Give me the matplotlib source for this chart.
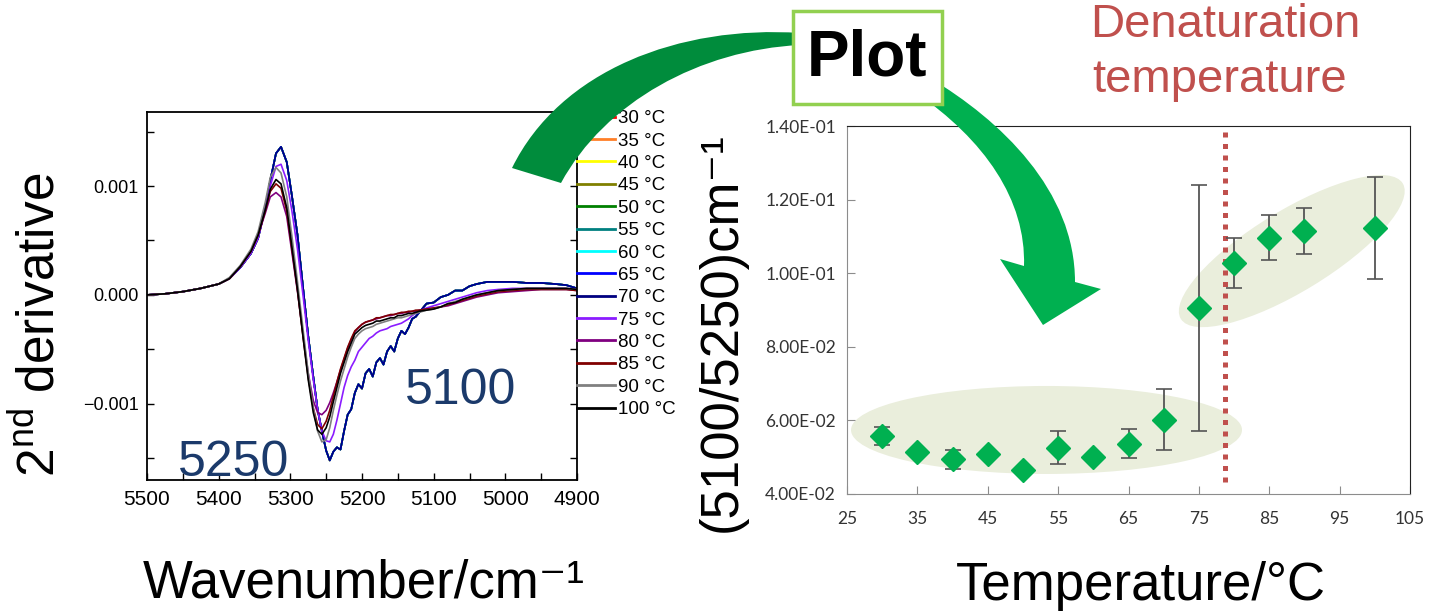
import matplotlib
matplotlib.use("Agg")
import matplotlib.pyplot as plt
import numpy as np
from matplotlib import font_manager
from matplotlib.patches import Ellipse, PathPatch, Rectangle
from matplotlib.path import Path
from matplotlib.transforms import ScaledTranslation

# ---- second-derivative spectra (values in units of 1e-3) ----
wavenumber = [5500, 5475, 5450, 5425, 5400, 5385, 5370, 5355, 5345, 5335,
              5328, 5320, 5313, 5305, 5298, 5290, 5282, 5275, 5268, 5262,
              5256, 5250, 5245, 5240, 5235, 5230, 5225, 5220, 5215, 5210,
              5205, 5200, 5195, 5190, 5185, 5180, 5175, 5170, 5165, 5160,
              5155, 5150, 5145, 5140, 5135, 5130, 5125, 5120, 5110, 5100,
              5090, 5080, 5070, 5060, 5050, 5040, 5025, 5010, 4990, 4970,
              4950, 4930, 4915, 4900]

# 30-70 C spectra lie on top of each other
d2_low = [0.00, 0.01, 0.03, 0.06, 0.10, 0.15, 0.25, 0.38, 0.52, 0.80,
          1.05, 1.30, 1.36, 1.22, 0.92, 0.55, 0.05, -0.38, -0.75, -1.05,
          -1.25, -1.43, -1.52, -1.44, -1.40, -1.42, -1.25, -1.10, -1.05, -0.90,
          -0.82, -0.86, -0.72, -0.68, -0.75, -0.62, -0.58, -0.64, -0.52, -0.47,
          -0.52, -0.40, -0.33, -0.36, -0.30, -0.22, -0.20, -0.16, -0.08, -0.07,
          -0.02, 0.00, 0.04, 0.04, 0.08, 0.10, 0.12, 0.12, 0.12, 0.11,
          0.11, 0.10, 0.09, 0.06]
d2_75 = [0.00, 0.01, 0.03, 0.06, 0.10, 0.15, 0.25, 0.38, 0.52, 0.78,
         1.00, 1.18, 1.20, 1.05, 0.78, 0.42, -0.02, -0.42, -0.78, -1.05,
         -1.25, -1.34, -1.35, -1.28, -1.15, -1.00, -0.85, -0.74, -0.66, -0.60,
         -0.52, -0.48, -0.44, -0.40, -0.38, -0.35, -0.33, -0.32, -0.31, -0.29,
         -0.28, -0.27, -0.26, -0.24, -0.22, -0.19, -0.17, -0.15, -0.12, -0.10,
         -0.08, -0.06, -0.04, -0.02, 0.00, 0.02, 0.04, 0.05, 0.06, 0.06,
         0.06, 0.06, 0.06, 0.05]
d2_80 = [0.00, 0.01, 0.03, 0.06, 0.10, 0.15, 0.26, 0.40, 0.55, 0.75,
         0.90, 0.94, 0.90, 0.72, 0.40, 0.03, -0.38, -0.72, -0.97, -1.08,
         -1.10, -1.06, -0.99, -0.90, -0.80, -0.69, -0.59, -0.49, -0.41, -0.34,
         -0.30, -0.27, -0.25, -0.24, -0.23, -0.22, -0.21, -0.20, -0.19, -0.19,
         -0.18, -0.17, -0.17, -0.16, -0.16, -0.15, -0.15, -0.14, -0.13, -0.12,
         -0.11, -0.10, -0.08, -0.06, -0.04, -0.02, 0.00, 0.02, 0.03, 0.04,
         0.05, 0.05, 0.05, 0.04]
d2_85 = [0.00, 0.01, 0.03, 0.06, 0.10, 0.15, 0.26, 0.40, 0.55, 0.77,
         0.95, 1.02, 0.98, 0.77, 0.43, 0.04, -0.40, -0.76, -1.04, -1.19,
         -1.23, -1.16, -1.06, -0.93, -0.80, -0.68, -0.58, -0.48, -0.40, -0.33,
         -0.30, -0.27, -0.25, -0.24, -0.23, -0.21, -0.21, -0.20, -0.19, -0.18,
         -0.18, -0.17, -0.16, -0.16, -0.15, -0.15, -0.14, -0.14, -0.13, -0.12,
         -0.11, -0.09, -0.07, -0.05, -0.03, -0.01, 0.01, 0.03, 0.04, 0.05,
         0.05, 0.05, 0.05, 0.04]
d2_90 = [0.00, 0.01, 0.03, 0.06, 0.10, 0.16, 0.27, 0.42, 0.58, 0.85,
         1.08, 1.17, 1.12, 0.90, 0.55, 0.12, -0.33, -0.72, -1.04, -1.25,
         -1.35, -1.33, -1.22, -1.06, -0.92, -0.79, -0.68, -0.57, -0.48, -0.40,
         -0.36, -0.33, -0.31, -0.30, -0.29, -0.27, -0.26, -0.25, -0.24, -0.23,
         -0.22, -0.21, -0.21, -0.20, -0.19, -0.18, -0.17, -0.16, -0.14, -0.13,
         -0.11, -0.08, -0.06, -0.04, -0.02, 0.00, 0.02, 0.04, 0.05, 0.06,
         0.06, 0.06, 0.06, 0.05]
d2_100 = [0.00, 0.01, 0.03, 0.06, 0.10, 0.15, 0.26, 0.40, 0.55, 0.78,
          0.97, 1.06, 1.02, 0.80, 0.45, 0.05, -0.40, -0.78, -1.08, -1.24,
          -1.28, -1.22, -1.12, -0.98, -0.85, -0.72, -0.62, -0.52, -0.44, -0.36,
          -0.33, -0.30, -0.28, -0.27, -0.26, -0.24, -0.24, -0.23, -0.22, -0.21,
          -0.21, -0.19, -0.19, -0.18, -0.17, -0.17, -0.16, -0.15, -0.14, -0.13,
          -0.11, -0.08, -0.07, -0.04, -0.02, 0.00, 0.02, 0.04, 0.05, 0.06,
          0.06, 0.06, 0.06, 0.05]

spec_temps = [30, 35, 40, 45, 50, 55, 60, 65, 70, 75, 80, 85, 90, 100]
spec_colors = ["#FF0000", "#FF7F27", "#FFFF00", "#808000", "#008000",
               "#008080", "#00FFFF", "#0000FF", "#000080", "#8B1CFF",
               "#800080", "#800000", "#808080", "#000000"]
spec_data = [d2_low] * 9 + [d2_75, d2_80, d2_85, d2_90, d2_100]

# ---- peak ratio vs temperature ----
temperature = [30, 35, 40, 45, 50, 55, 60, 65, 70, 75, 80, 85, 90, 100]
ratio = [0.0557, 0.0513, 0.0494, 0.0510, 0.0465, 0.0526, 0.0501,
         0.0537, 0.0602, 0.0905, 0.1027, 0.1097, 0.1115, 0.1123]
ratio_err = [0.0025, 0.0010, 0.0025, 0.0005, 0.0008, 0.0045, 0.0003,
             0.0040, 0.0082, 0.0334, 0.0068, 0.0060, 0.0062, 0.0138]
denat_temp = 78.7

W, H = 1431, 614


def pf(x, y):
    # pixel position -> figure fraction
    return x / W, 1 - y / H


def pick(*names):
    have = {f.name for f in font_manager.fontManager.ttflist}
    for n in names:
        if n in have:
            return n
    return "DejaVu Sans"


sans = pick("Liberation Sans", "Arial")
narrow = pick("Liberation Sans Narrow", "DejaVu Sans Condensed", sans)
calib = pick("Lato", "Open Sans")
plt.rcParams["font.family"] = [sans, "DejaVu Sans"]
plt.rcParams["mathtext.fontset"] = "custom"
plt.rcParams["mathtext.rm"] = sans

fig = plt.figure(figsize=(W / 100, H / 100), dpi=100)

# ---------------- left: spectra ----------------
ax1 = fig.add_axes([147 / W, 1 - 480 / H, 430 / W, 368 / H])
wn = np.array(wavenumber)
for t, c, d in zip(spec_temps, spec_colors, spec_data):
    ax1.plot(wn, np.array(d) * 1e-3, color=c, lw=1.2, label="%d °C" % t)
ax1.set_xlim(5500, 4900)
ax1.set_ylim(-0.00170, 0.00168)
ax1.set_xticks(np.arange(5500, 4899, -100))
ax1.set_xticks(np.arange(5450, 4900, -100), minor=True)
ax1.set_yticks([-0.001, 0.0, 0.001])
ax1.set_yticks([-0.0015, -0.0005, 0.0005, 0.0015], minor=True)
ax1.set_yticklabels(["\u22120.001", "0.000", "0.001"])
ax1.tick_params(which="both", direction="in", length=5, width=1,
                right=True, top=False)
ax1.tick_params(axis="x", labelsize=15, pad=7)
ax1.tick_params(axis="y", labelsize=13, pad=6)
for lab in ax1.get_xticklabels():
    lab.set_family([narrow, sans])
for sp in ax1.spines.values():
    sp.set_linewidth(1.3)

leg = ax1.legend(loc="upper left", bbox_to_anchor=(1.0, 1.005), frameon=False,
                 borderaxespad=0, borderpad=0, handlelength=2.0,
                 handletextpad=0.2, labelspacing=0.28,
                 prop={"family": [narrow, sans], "size": 13.5})
for ln in leg.get_lines():
    ln.set_linewidth(2)

fig.text(*pf(40, 325), "2$^{\\rm nd}$ derivative", rotation=90,
         ha="center", va="center", fontsize=37)
fig.text(*pf(364, 598), "Wavenumber/cm\u207b\u00b9", ha="center",
         va="baseline", fontsize=38)
fig.text(*pf(178, 476), "5250", ha="left", va="baseline", fontsize=36,
         color="#1B3A6B")
fig.text(*pf(405, 404), "5100", ha="left", va="baseline", fontsize=36,
         color="#1B3A6B")

# ---------------- right: ratio vs temperature ----------------
ax2 = fig.add_axes([847 / W, 1 - 494 / H, 563 / W, 368 / H])
ax2.set_xlim(25, 105)
ax2.set_ylim(0.04, 0.14)

# grouping ellipses, sized in inches around a data-space centre
for cx, cy, w, h, ang in [(53.35, 0.0574, 3.91, 0.88, 0),
                          (88.2, 0.1060, 2.60, 0.81, 31.4)]:
    tr = fig.dpi_scale_trans + ScaledTranslation(cx, cy, ax2.transData)
    ax2.add_patch(Ellipse((0, 0), w, h, angle=ang, transform=tr,
                          facecolor="#EAEEDC", edgecolor="none", zorder=0.5))

ax2.vlines(denat_temp, 0.0433, 0.1383, colors="#C0504D", lw=3.6,
           linestyles=(0, (1, 1.3)), zorder=1)
ax2.errorbar(temperature, ratio, yerr=ratio_err, fmt="D", color="#00B050",
             ms=12.5, mec="#00B050", ecolor="#555555", elinewidth=1.3,
             capsize=5.5, capthick=1.2, zorder=3)

ax2.set_xticks(np.arange(25, 106, 10))
ax2.set_yticks(np.arange(0.04, 0.141, 0.02))
ax2.set_yticklabels(["%.2E" % v for v in np.arange(0.04, 0.141, 0.02)])
ax2.tick_params(direction="in", length=6, color="#8C8C8C",
                labelsize=12.5, labelcolor="#333333")
ax2.tick_params(axis="x", pad=12)
ax2.tick_params(axis="y", pad=8)
for lab in ax2.get_xticklabels() + ax2.get_yticklabels():
    lab.set_family([calib, sans])
for s in ("left", "bottom"):
    ax2.spines[s].set_color("#8C8C8C")
for s in ("top", "right"):
    ax2.spines[s].set_color("#222222")

fig.text(*pf(722, 332), "(5100/5250)cm\u207b\u00b9", rotation=90,
         ha="center", va="center", fontsize=38)
fig.text(*pf(1141, 600), "Temperature/\u00b0C", ha="center",
         va="baseline", fontsize=38)
fig.text(*pf(1090, 37), "Denaturation", ha="left", va="baseline",
         fontsize=34, color="#C0504D")
fig.text(*pf(1092, 92), "temperature", ha="left", va="baseline",
         fontsize=34, color="#C0504D")

# ---------------- overlay: arrows and "Plot" box ----------------
ov = fig.add_axes([0, 0, 1, 1], zorder=10)
ov.set_xlim(0, W)
ov.set_ylim(H, 0)
ov.axis("off")
ov.patch.set_alpha(0)

C4 = Path.CURVE4
arc = Path([(512, 168), (560, 70), (680, 25), (800, 33),
            (800, 45), (700, 50), (605, 102), (561, 183), (512, 168)],
           [Path.MOVETO, C4, C4, C4, Path.LINETO, C4, C4, C4, Path.CLOSEPOLY])
ov.add_patch(PathPatch(arc, facecolor="#008C3C", edgecolor="none"))

arrow = Path([(930, 78), (1000, 120), (1075, 190), (1075, 282),
              (1101, 289), (1043, 325), (1000, 259), (1024, 266),
              (1026, 200), (985, 140), (915, 92), (930, 78)],
             [Path.MOVETO, C4, C4, C4, Path.LINETO, Path.LINETO,
              Path.LINETO, Path.LINETO, C4, C4, C4, Path.CLOSEPOLY])
ov.add_patch(PathPatch(arrow, facecolor="#00B050", edgecolor="none"))

ov.add_patch(Rectangle((793, 11), 149, 93, facecolor="white",
                       edgecolor="#92D050", lw=2.5))
ov.text(867, 58, "Plot", ha="center", va="center", fontsize=46,
        fontweight="bold")

fig.savefig("out.png", dpi=100)
